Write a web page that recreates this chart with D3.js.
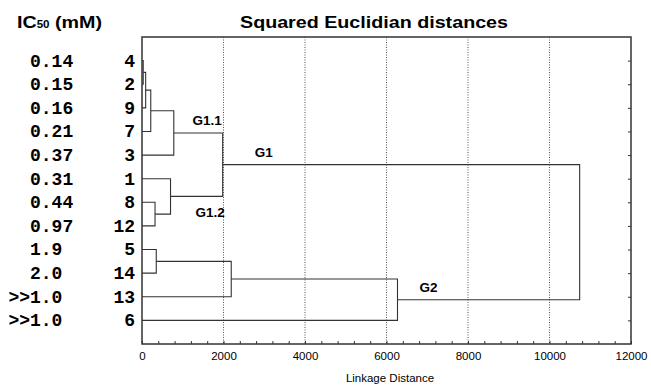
<!DOCTYPE html>
<html>
<head>
<meta charset="utf-8">
<script src="https://cdn.jsdelivr.net/npm/d3@7"></script>
<style>
  body { margin: 0; background: #fff; }
  svg { display: block; }
</style>
</head>
<body>
<div id="chart"></div>
<script>
// leaf order top -> bottom, with IC50 value shown on the left
const leaves = ["4", "2", "9", "7", "3", "1", "8", "12", "5", "14", "13", "6"];
const ic50 = ["0.14", "0.15", "0.16", "0.21", "0.37", "0.31", "0.44", "0.97", "1.9", "2.0", ">>1.0", ">>1.0"];

// merges: [left, right, linkage distance]; cluster ids are c0, c1, ... in order
const merges = [
  ["4", "2", 30],
  ["c0", "9", 90],
  ["c1", "7", 215],
  ["c2", "3", 780],
  ["8", "12", 320],
  ["1", "c4", 700],
  ["c3", "c5", 1980],
  ["5", "14", 350],
  ["c7", "13", 2190],
  ["c8", "6", 6270],
  ["c6", "c9", 10740]
];

// group labels attached to clusters
const groupNames = ["G1.1", "G1.2", "G1", "G2"];
const groupNodes = ["c3", "c5", "c6", "c9"];

const xTicks = [0, 2000, 4000, 6000, 8000, 10000, 12000];
const gridTicks = [2000, 4000, 6000, 8000, 10000];

const width = 651, height = 385;
const margin = { top: 37, right: 20, bottom: 41, left: 142 };
const innerW = width - margin.left - margin.right;
const innerH = height - margin.top - margin.bottom;
const lineColor = "#333";

const svg = d3.select("#chart").append("svg")
  .attr("width", width)
  .attr("height", height);

const plot = svg.append("g")
  .attr("transform", `translate(${margin.left},${margin.top})`);

const x = d3.scaleLinear().domain([0, 12000]).range([0, innerW]);
const y = d3.scalePoint().domain(leaves).range([0, innerH]).padding(1);

// gridlines
plot.append("g")
  .selectAll("line")
  .data(gridTicks)
  .enter().append("line")
    .attr("x1", d => x(d)).attr("x2", d => x(d))
    .attr("y1", 0).attr("y2", innerH)
    .attr("stroke", "#555")
    .attr("stroke-width", 1)
    .attr("stroke-dasharray", "1,1.5");

// bottom axis: minor ticks every 400, labels every 2000
const bottom = plot.append("g").attr("transform", `translate(0,${innerH})`);
bottom.call(d3.axisBottom(x).tickValues(d3.range(0, 12001, 400)).tickSize(-3).tickFormat(""))
  .call(g => g.select(".domain").remove());
bottom.append("g").call(d3.axisBottom(x).tickValues(xTicks).tickSize(0).tickPadding(8).tickFormat(d3.format("d")))
  .call(g => g.select(".domain").remove())
  .selectAll("text")
    .attr("font-family", "Arial, 'Liberation Sans', sans-serif")
    .attr("font-size", 11.5)
    .attr("fill", "#000");
bottom.selectAll(".tick line").attr("stroke", lineColor);

// right axis: inward ticks at each leaf row
plot.append("g")
  .attr("transform", `translate(${innerW},0)`)
  .call(d3.axisLeft(y).tickSize(3).tickFormat(""))
  .call(g => g.select(".domain").remove())
  .selectAll(".tick line").attr("stroke", lineColor);

// frame
plot.append("rect")
  .attr("width", innerW).attr("height", innerH)
  .attr("fill", "none")
  .attr("stroke", lineColor)
  .attr("stroke-width", 1.5);

// build node positions from merges
const nodes = {};
leaves.forEach(l => { nodes[l] = { h: 0, y: y(l) }; });
merges.forEach((m, i) => {
  const a = nodes[m[0]], b = nodes[m[1]];
  nodes["c" + i] = { h: m[2], y: (a.y + b.y) / 2, a: a, b: b };
});

const links = merges.map((m, i) => nodes["c" + i]);
plot.append("g")
  .selectAll("path")
  .data(links)
  .enter().append("path")
    .attr("d", d => `M${x(d.a.h)},${d.a.y}H${x(d.h)}V${d.b.y}H${x(d.b.h)}`)
    .attr("fill", "none")
    .attr("stroke", lineColor)
    .attr("stroke-width", 1.1);

// group labels
const groupOffsets = {
  "G1.1": [x(1980) - x(780) - 1, -8, "end"],
  "G1.2": [x(1980) - x(700) + 2, 21, "end"],
  "G1": [32, -8, "start"],
  "G2": [22, -8, "start"]
};
plot.append("g")
  .selectAll("text")
  .data(groupNames)
  .enter().append("text")
    .attr("x", (d, i) => x(nodes[groupNodes[i]].h) + groupOffsets[d][0])
    .attr("y", (d, i) => nodes[groupNodes[i]].y + groupOffsets[d][1])
    .attr("text-anchor", d => groupOffsets[d][2])
    .attr("font-family", "Arial, 'Liberation Sans', sans-serif")
    .attr("font-weight", "bold")
    .attr("font-size", 13.5)
    .text(d => d);

// leaf labels (right aligned next to the frame)
const mono = "'Courier New', 'Liberation Mono', monospace";
svg.append("g")
  .selectAll("text")
  .data(leaves)
  .enter().append("text")
    .attr("x", margin.left - 7)
    .attr("y", d => margin.top + y(d))
    .attr("dy", "0.33em")
    .attr("text-anchor", "end")
    .attr("font-family", mono)
    .attr("font-weight", "bold")
    .attr("font-size", 18)
    .text(d => d);

// IC50 values, numbers left aligned, '>' prefix hanging out to the left
const charW = 18 * 0.6;
svg.append("g")
  .selectAll("text")
  .data(ic50)
  .enter().append("text")
    .attr("x", d => 30 - d.match(/^>*/)[0].length * charW)
    .attr("y", (d, i) => margin.top + y(leaves[i]))
    .attr("dy", "0.33em")
    .attr("font-family", mono)
    .attr("font-weight", "bold")
    .attr("font-size", 18)
    .text(d => d);

// headers
const header = svg.append("text")
  .attr("x", 17).attr("y", 28)
  .attr("font-family", "Arial, 'Liberation Sans', sans-serif")
  .attr("font-weight", "bold")
  .attr("font-size", 17)
  .attr("textLength", 85)
  .attr("lengthAdjust", "spacingAndGlyphs");
header.append("tspan").text("IC");
header.append("tspan").attr("font-size", 10).text("50");
header.append("tspan").text(" (mM)");

svg.append("text")
  .attr("x", 240).attr("y", 28)
  .attr("font-family", "Arial, 'Liberation Sans', sans-serif")
  .attr("font-weight", "bold")
  .attr("font-size", 17)
  .attr("textLength", 268)
  .attr("lengthAdjust", "spacingAndGlyphs")
  .text("Squared Euclidian distances");

svg.append("text")
  .attr("x", 390).attr("y", 382)
  .attr("text-anchor", "middle")
  .attr("font-family", "Arial, 'Liberation Sans', sans-serif")
  .attr("font-size", 11.5)
  .text("Linkage Distance");
</script>
</body>
</html>
